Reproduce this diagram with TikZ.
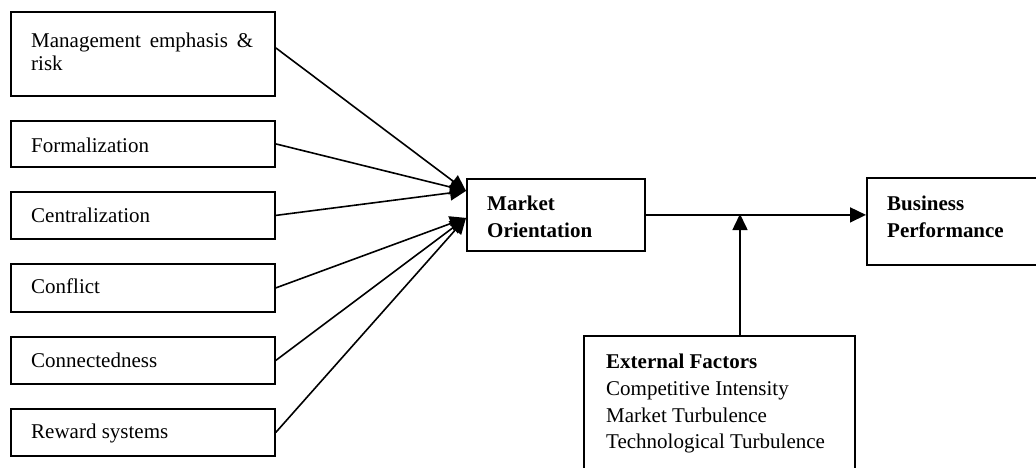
\documentclass[tikz,border=0pt]{standalone}
\usepackage{fontspec}
\setmainfont{Liberation Serif}
\usetikzlibrary{arrows.meta}
\begin{document}
\begin{tikzpicture}[x=1pt,y=-1pt,
  box/.style={draw, line width=1.8pt, rectangle, inner sep=0pt, anchor=north west},
  txt/.style={inner sep=0pt, anchor=base west, font=\fontsize{21}{26}\selectfont},
  btxt/.style={inner sep=0pt, anchor=base west, font=\fontsize{21}{26}\selectfont\bfseries},
  arr/.style={line width=1.6pt, -{Triangle[length=16pt,width=15pt]}}]
\useasboundingbox (0,0) rectangle (1036,467);
\clip (0,0) rectangle (1036,467);
% left boxes
\node[box, minimum width=264pt, minimum height=84pt] (m) at (10,11) {};
\node[box, minimum width=264pt, minimum height=46pt] (f) at (10,120) {};
\node[box, minimum width=264pt, minimum height=47pt] (c) at (10,191) {};
\node[box, minimum width=264pt, minimum height=48pt] (k) at (10,263) {};
\node[box, minimum width=264pt, minimum height=47pt] (cn) at (10,336) {};
\node[box, minimum width=264pt, minimum height=47pt] (r) at (10,408) {};
% central boxes
\node[box, minimum width=178pt, minimum height=72pt] (mo) at (466,178) {};
\node[box, minimum width=190pt, minimum height=87pt] (bp) at (866,177) {};
\node[box, minimum width=271pt, minimum height=150pt] (ef) at (583,335) {};
% texts
\node[txt] (mt1) at (31,47) {\makebox[222pt][s]{Management emphasis \&}};
\node[txt] (mt2) at (31,70) {risk};
\node[txt] (ft) at (31,152) {Formalization};
\node[txt] (ct) at (31,222) {Centralization};
\node[txt] (kt) at (31,293) {Conflict};
\node[txt] (cnt) at (31,367) {Connectedness};
\node[txt] (rt) at (31,438) {Reward systems};
\node[btxt] (mo1) at (487,210) {Market};
\node[btxt] (mo2) at (487,237) {Orientation};
\node[btxt] (bp1) at (887,210) {Business};
\node[btxt] (bp2) at (887,237) {Performance};
\node[btxt] (ef1) at (606,368) {External Factors};
\node[txt] (ef2) at (606,395) {Competitive Intensity};
\node[txt] (ef3) at (606,422) {Market Turbulence};
\node[txt] (ef4) at (606,448) {Technological Turbulence};
% arrows into Market Orientation
\coordinate (ta) at ([yshift=24pt]mo.west);
\coordinate (tb) at ([yshift=-3pt]mo.west);
\draw[arr] ([yshift=6pt]m.east) -- (ta);
\draw[arr] (f.east) -- (ta);
\draw[arr] (c.east) -- (ta);
\draw[arr] (k.east) -- (tb);
\draw[arr] (cn.east) -- (tb);
\draw[arr] (r.east) -- (tb);
% main path
\draw[arr] (mo.east) -- (mo.east -| bp.west);
\coordinate (j) at (740,214);
\draw[arr] (ef.north -| j) -- (j);
\end{tikzpicture}
\end{document}
